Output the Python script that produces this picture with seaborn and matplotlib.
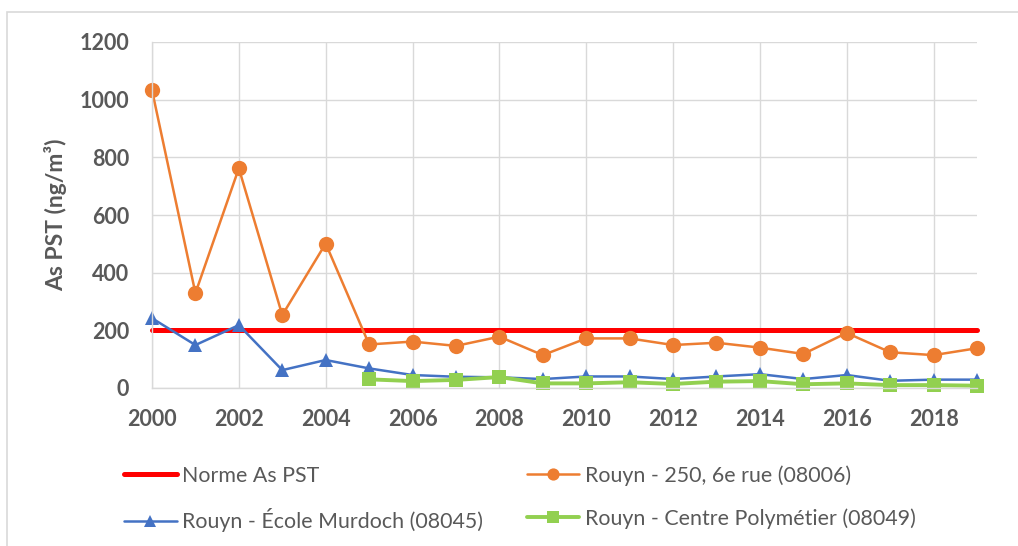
import matplotlib
matplotlib.use("Agg")
import matplotlib.pyplot as plt
import seaborn as sns
import pandas as pd
from matplotlib.patches import Rectangle

years = list(range(2000, 2020))
norme = [200] * 20
rue6 = [1033, 329, 762, 253, 501, 151, 161, 146, 178, 114, 172, 172, 149, 157, 140, 118, 191, 124, 114, 138]
murdoch = [242, 149, 218, 62, 97, 68, 45, 39, 37, 31, 40, 40, 31, 40, 48, 31, 45, 25, 29, 29]
poly_years = list(range(2005, 2020))
poly = [30, 24, 28, 38, 16, 16, 20, 14, 22, 24, 13, 16, 10, 10, 8]

labels = ["Norme As PST", "Rouyn - 250, 6e rue (08006)",
          "Rouyn - École Murdoch (08045)", "Rouyn - Centre Polymétier (08049)"]

sns.set_theme(style="white")
plt.rcParams['font.family'] = ['Lato', 'DejaVu Sans']

fig = plt.figure(figsize=(10.18, 5.46), dpi=100)
ax = fig.add_axes([152/1018, 1-388/546, (977-152)/1018, (388-42)/546])

# chart border
fig.patches.append(Rectangle((7/1018, -0.05), 1.1, 1-12/546+0.05, transform=fig.transFigure,
                             fill=False, edgecolor="#D9D9D9", linewidth=1.2))

df1 = pd.DataFrame({"year": years, "v": norme})
df2 = pd.DataFrame({"year": years, "v": rue6})
df3 = pd.DataFrame({"year": years, "v": murdoch})
df4 = pd.DataFrame({"year": poly_years, "v": poly})

sns.lineplot(data=df1, x="year", y="v", ax=ax, color="#FF0000", linewidth=3.6,
             solid_capstyle="round", label=labels[0], clip_on=False)
sns.lineplot(data=df2, x="year", y="v", ax=ax, color="#ED7D31", linewidth=1.8,
             marker="o", markersize=11, markeredgewidth=0, label=labels[1], clip_on=False)
sns.lineplot(data=df3, x="year", y="v", ax=ax, color="#4472C4", linewidth=1.8,
             marker="^", markersize=10, markeredgewidth=0, label=labels[2], clip_on=False)
sns.lineplot(data=df4, x="year", y="v", ax=ax, color="#92D050", linewidth=2.8,
             marker="s", markersize=10, markeredgewidth=0, label=labels[3], clip_on=False)

ax.set_xlim(2000, 2019)
ax.set_ylim(0, 1200)
ax.set_xticks(range(2000, 2019, 2))
ax.set_yticks(range(0, 1201, 200))
ax.grid(True, color="#D9D9D9", linewidth=1.0)
ax.set_axisbelow(True)
for s in ["top", "right"]:
    ax.spines[s].set_visible(False)
for s in ["left", "bottom"]:
    ax.spines[s].set_color("#D9D9D9")
    ax.spines[s].set_linewidth(1.0)
ax.tick_params(axis="both", length=0, labelsize=15.5, labelcolor="#595959")
ax.tick_params(axis="x", pad=15)
ax.tick_params(axis="y", pad=16.5)
for t in ax.get_xticklabels() + ax.get_yticklabels():
    t.set_fontweight("bold")
ax.set_xlabel("")
ax.set_ylabel("As PST (ng/m³)", fontsize=16.5, fontweight="bold", color="#595959", labelpad=9)

handles, labs = ax.get_legend_handles_labels()
order = [0, 2, 1, 3]
leg = ax.legend([handles[i] for i in order], [labs[i] for i in order],
                ncol=2, loc="upper left", bbox_to_anchor=(105/1018, 1-446/546),
                bbox_transform=fig.transFigure, frameon=False, fontsize=15.4,
                handlelength=2.45, handletextpad=0.25, columnspacing=2.05,
                labelspacing=1.05, markerscale=0.8)
for t in leg.get_texts():
    t.set_color("#595959")

fig.savefig("out.png", dpi=100)
